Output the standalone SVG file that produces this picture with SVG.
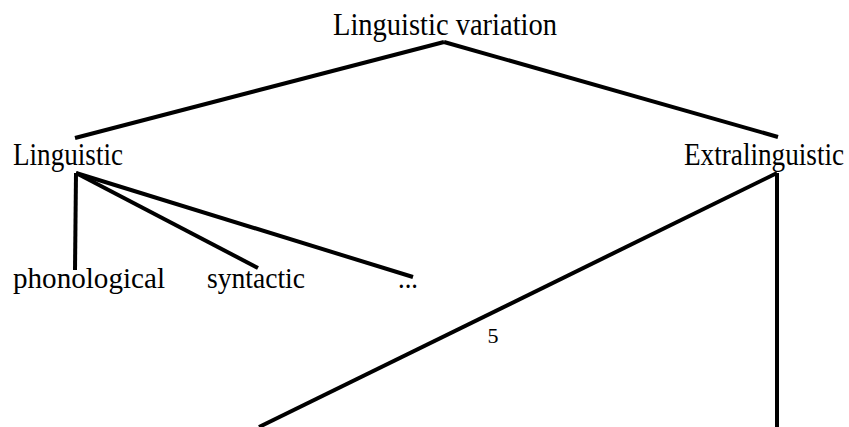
<svg xmlns="http://www.w3.org/2000/svg" width="849" height="427" viewBox="0 0 849 427">
<style>
text{font-family:"Liberation Serif","Times New Roman",serif;fill:#000}
.t{font-size:32px}
.n{font-size:29px}
.e line{stroke:#000;stroke-width:4;stroke-linecap:butt}
</style>
<rect width="849" height="427" fill="#fff"/>
<g class="e" id="connectors">
<line x1="444" y1="42" x2="75" y2="138"/>
<line x1="444" y1="42" x2="778" y2="137"/>
<line x1="76" y1="173" x2="75" y2="270"/>
<line x1="76" y1="173" x2="258" y2="268"/>
<line x1="76" y1="173" x2="413" y2="277"/>
<line x1="777" y1="173" x2="777" y2="427"/>
<line x1="777" y1="173" x2="259" y2="427"/>
</g>
<g id="root"><text class="t" x="333" y="35" textLength="224" lengthAdjust="spacingAndGlyphs">Linguistic variation</text></g>
<g id="linguistic"><text class="t" x="13" y="165" textLength="110" lengthAdjust="spacingAndGlyphs">Linguistic</text></g>
<g id="extralinguistic"><text class="t" transform="translate(684,165) scale(0.85,1)" x="0" y="0">Extralinguistic</text></g>
<g id="phonological"><text class="n" x="13" y="288" textLength="152" lengthAdjust="spacingAndGlyphs">phonological</text></g>
<g id="syntactic"><text class="n" x="207" y="288" textLength="98" lengthAdjust="spacingAndGlyphs">syntactic</text></g>
<g id="more"><text class="n" x="398" y="288" textLength="20" lengthAdjust="spacingAndGlyphs">...</text></g>
<g id="label5"><text x="493" y="343" font-size="22" text-anchor="middle">5</text></g>
</svg>
